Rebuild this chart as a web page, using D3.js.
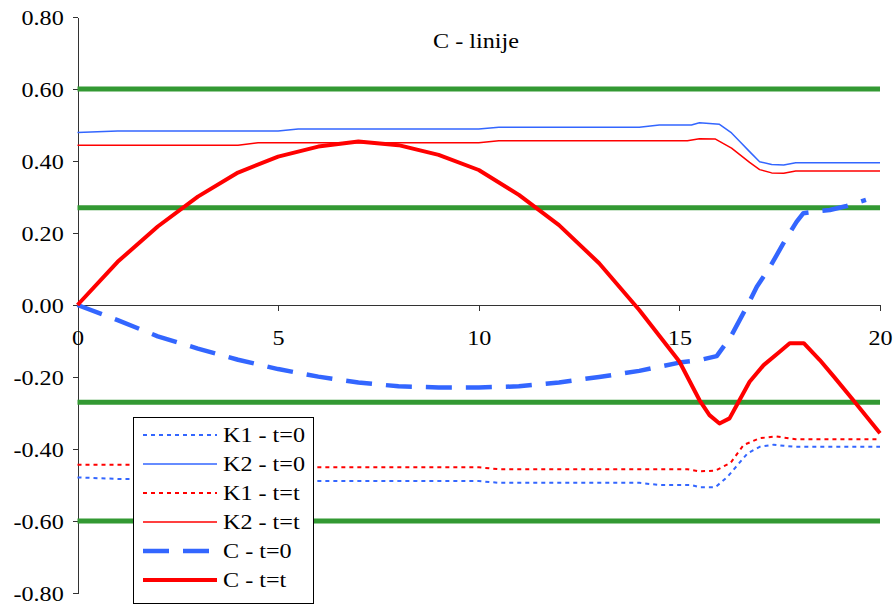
<!DOCTYPE html>
<html>
<head>
<meta charset="utf-8">
<script src="https://cdn.jsdelivr.net/npm/d3@7"></script>
<style>
  body { margin: 0; background: #fff; }
  .axis path, .axis line { stroke: #333; stroke-width: 1; shape-rendering: crispEdges; }
  .limit { stroke: #339933; stroke-width: 5; }
</style>
</head>
<body>
<div class="chart-container"></div>
<script>
// tick values
var xTicks = [0, 5, 10, 15, 20];
var yTicks = [-0.8, -0.6, -0.4, -0.2, 0, 0.2, 0.4, 0.6, 0.8];

// green limit lines
var limits = [0.6, 0.27, -0.27, -0.6];

// K1 / K2 at t=0 (blue) and t=t (red)
var k1t0 = [[0,-0.479],[1,-0.483],[5,-0.483],[5.5,-0.489],[10,-0.489],[10.5,-0.494],[14,-0.494],[14.5,-0.500],[15.3,-0.500],[15.5,-0.506],[15.9,-0.506],[16.2,-0.477],[16.7,-0.412],[17.0,-0.394],[17.35,-0.388],[17.6,-0.391],[17.9,-0.394],[20,-0.394]];
var k2t0 = [[0,0.479],[1,0.483],[5,0.483],[5.5,0.489],[10,0.489],[10.5,0.494],[14,0.494],[14.5,0.500],[15.3,0.500],[15.5,0.506],[16.0,0.502],[16.3,0.478],[16.5,0.455],[16.75,0.426],[17.0,0.398],[17.3,0.390],[17.6,0.389],[17.9,0.395],[20,0.395]];
var k1tt = [[0,-0.444],[4,-0.444],[4.5,-0.451],[10,-0.451],[10.5,-0.456],[15.2,-0.456],[15.5,-0.462],[15.9,-0.460],[16.28,-0.438],[16.6,-0.389],[17.0,-0.370],[17.4,-0.365],[17.9,-0.373],[20,-0.373]];
var k2tt = [[0,0.444],[4,0.444],[4.5,0.451],[10,0.451],[10.5,0.456],[15.2,0.456],[15.5,0.462],[15.9,0.461],[16.3,0.436],[16.75,0.396],[17.0,0.376],[17.3,0.367],[17.6,0.366],[17.9,0.372],[20,0.372]];

// C lines
var ct0 = [[0,0],[1,-0.042],[2,-0.087],[3,-0.121],[4,-0.152],[5,-0.178],[6,-0.199],[7,-0.215],[8,-0.226],[9,-0.229],[10,-0.229],[11,-0.226],[12,-0.215],[13,-0.200],[14,-0.183],[15,-0.160],[15.5,-0.153],[15.93,-0.142],[16.28,-0.088],[16.68,-0.005],[16.93,0.051],[17.26,0.106],[17.59,0.171],[17.92,0.231],[18.09,0.255],[18.34,0.259],[18.75,0.264],[19.17,0.275],[19.65,0.292]];
var ctt = [[0,0],[1,0.120],[2,0.218],[3,0.301],[4,0.368],[5,0.412],[6,0.440],[7,0.454],[8,0.444],[9,0.417],[10,0.375],[11,0.306],[12,0.222],[13,0.116],[14,-0.014],[15,-0.157],[15.5,-0.264],[15.75,-0.306],[16,-0.329],[16.25,-0.315],[16.5,-0.264],[16.75,-0.213],[17.1,-0.167],[17.5,-0.130],[17.75,-0.106],[18.1,-0.106],[18.5,-0.153],[18.85,-0.199],[19.33,-0.264],[20,-0.356]];

var seriesNames = ['K1 - t=0', 'K2 - t=0', 'K1 - t=t', 'K2 - t=t', 'C - t=0', 'C - t=t'];

var width = 894, height = 604;
var fontFamily = '"Liberation Serif", "Times New Roman", serif';
var textScale = 'scale(1.15,1)';

var svg = d3.select('.chart-container').append('svg')
  .attr('width', width)
  .attr('height', height);

var x = d3.scaleLinear().domain([0, 20]).range([77.5, 880]);
var y = d3.scaleLinear().domain([-0.8, 0.8]).range([593, 17]);

var line = d3.line()
  .x(d => x(d[0]))
  .y(d => y(d[1]));

var styles = [
  {data: k1t0, color: '#3366ff', w: 2, dash: '4,4'},
  {data: k2t0, color: '#3366ff', w: 1.5, dash: null},
  {data: k1tt, color: '#ff0000', w: 2, dash: '4,4'},
  {data: k2tt, color: '#ff0000', w: 1.5, dash: null},
  {data: ct0, color: '#3366ff', w: 4.5, dash: '26,14'},
  {data: ctt, color: '#ff0000', w: 4, dash: null}
];

function styleText(sel) {
  sel.style('font-family', fontFamily)
    .style('font-size', '21px')
    .style('fill', '#000');
}

// axes
var gY = svg.append('g')
  .attr('class', 'axis')
  .attr('transform', `translate(${x(0)},0)`)
  .call(d3.axisLeft(y).tickValues(yTicks).tickSize(5).tickSizeOuter(0)
    .tickFormat(d => d.toFixed(2)));
gY.attr('font-family', null);
gY.selectAll('text')
  .attr('x', -12)
  .attr('dy', '0.34em')
  .attr('transform', textScale)
  .call(styleText);

var gX = svg.append('g')
  .attr('class', 'axis')
  .attr('transform', `translate(0,${y(0)})`)
  .call(d3.axisBottom(x).tickValues(xTicks).tickSize(6).tickSizeOuter(0)
    .tickFormat(d3.format('d')));
gX.attr('font-family', null);
gX.selectAll('text')
  .attr('y', 25)
  .attr('transform', textScale)
  .call(styleText);
gX.select('.domain').attr('d', `M${x(0)},0H${x(20)}`);

// limit lines
svg.selectAll('.limit')
  .data(limits)
  .enter().append('line')
  .attr('class', 'limit')
  .attr('x1', x(0))
  .attr('x2', x(20))
  .attr('y1', d => y(d))
  .attr('y2', d => y(d));

// series
styles.forEach(s => {
  svg.append('path')
    .datum(s.data)
    .attr('d', line)
    .attr('fill', 'none')
    .attr('stroke', s.color)
    .attr('stroke-width', s.w)
    .attr('stroke-dasharray', s.dash)
    .attr('stroke-linejoin', 'round');
});

// title
svg.append('text')
  .attr('transform', `translate(476,48) ${textScale}`)
  .attr('text-anchor', 'middle')
  .text('C - linije')
  .call(styleText);

// legend
var legend = svg.append('g')
  .attr('class', 'legend')
  .attr('transform', 'translate(133,417)');
legend.append('rect')
  .attr('x', 0.5)
  .attr('y', 0.5)
  .attr('width', 180)
  .attr('height', 186)
  .attr('fill', '#fff')
  .attr('stroke', '#000')
  .attr('stroke-width', 1);

function legendEntry(host, title, s, i) {
  var entry = host.append('g')
    .attr('transform', `translate(0, ${18 + i * 29})`);
  entry.append('line')
    .attr('x1', 10)
    .attr('x2', 84)
    .attr('stroke', s.color)
    .attr('stroke-width', s.w)
    .attr('stroke-dasharray', s.dash);
  entry.append('text')
    .text(title)
    .attr('transform', `translate(90,7) ${textScale}`)
    .call(styleText);
  return entry;
}
seriesNames.forEach((n, i) => legendEntry(legend, n, styles[i], i));
</script>
</body>
</html>
